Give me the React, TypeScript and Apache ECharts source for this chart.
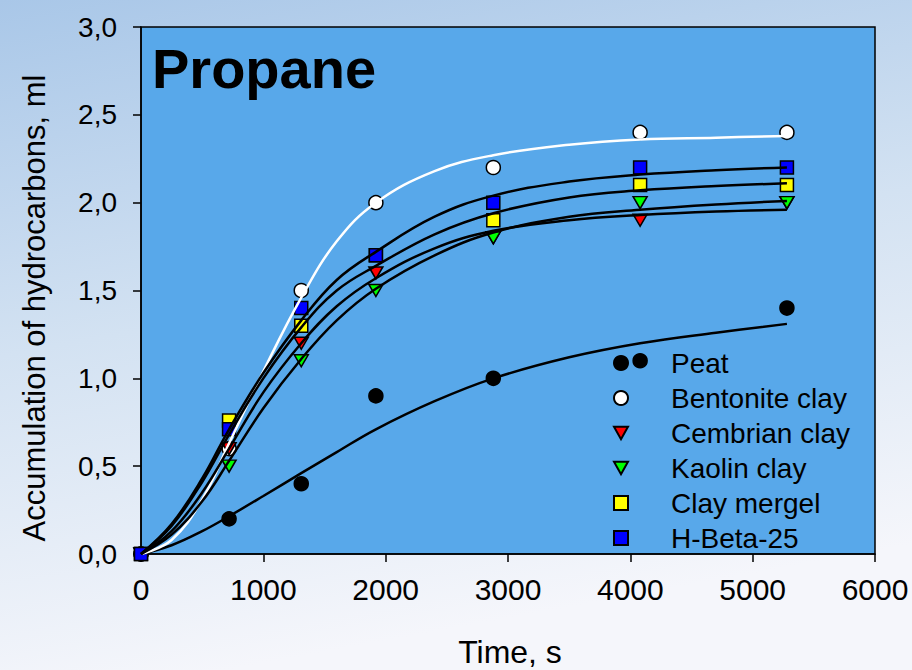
import React, { useEffect, useRef } from "react";
import * as echarts from "echarts";

// Measured data points
const sampleTimes = [0, 720, 1310, 1920, 2880, 4080, 5280];
const peat = [0, 0.2, 0.4, 0.9, 1.0, 1.1, 1.4];
const bentonite = [0, 0.6, 1.5, 2.0, 2.2, 2.4, 2.4];
const cembrian = [0, 0.6, 1.2, 1.6, 1.8, 1.9, 2.0];
const kaolin = [0, 0.5, 1.1, 1.5, 1.8, 2.0, 2.0];
const clayMergel = [0, 0.76, 1.3, 1.7, 1.9, 2.1, 2.1];
const hBeta = [0, 0.71, 1.4, 1.7, 2.0, 2.2, 2.2];

// Fitted curves
const curveTimes = [0, 250, 500, 720, 1000, 1310, 1600, 1920, 2400, 2880, 3500, 4080, 4700, 5280];
const peatFit = [0, 0.05, 0.13, 0.215, 0.33, 0.46, 0.58, 0.71, 0.87, 1.0, 1.12, 1.2, 1.26, 1.31];
const bentoniteFit = [0, 0.08, 0.31, 0.63, 1.04, 1.46, 1.78, 2.0, 2.18, 2.27, 2.33, 2.36, 2.37, 2.38];
const cembrianFit = [0, 0.13, 0.35, 0.6, 0.92, 1.2, 1.41, 1.57, 1.74, 1.84, 1.9, 1.93, 1.95, 1.96];
const kaolinFit = [0, 0.11, 0.3, 0.53, 0.83, 1.11, 1.33, 1.51, 1.7, 1.83, 1.92, 1.96, 1.99, 2.01];
const clayMergelFit = [0, 0.16, 0.41, 0.68, 1.0, 1.29, 1.5, 1.64, 1.82, 1.94, 2.03, 2.07, 2.095, 2.11];
const hBetaFit = [0, 0.17, 0.43, 0.71, 1.03, 1.33, 1.56, 1.72, 1.92, 2.04, 2.12, 2.16, 2.185, 2.2];

const seriesNames = ["Peat", "Bentonite clay", "Cembrian clay", "Kaolin clay", "Clay mergel", "H-Beta-25"];
const xTicks = { min: 0, max: 6000, interval: 1000 };
const yTicks = { min: 0, max: 3, interval: 0.5 };

const FONT = "'Liberation Sans', Arial, sans-serif";
const DOWN_TRI = "path://M0,0L10,0L5,9Z";

const pair = (xs: number[], ys: number[]) => xs.map((x, i) => [x, ys[i]]);

export default function App() {
  const ref = useRef<HTMLDivElement>(null);
  useEffect(() => {
    document.body.style.margin = "0";
    const chart = echarts.init(ref.current!, null, { renderer: "svg" });
    const markerDefs = [
      { name: seriesNames[0], data: peat, symbol: "circle", size: 14, color: "#000000" },
      { name: seriesNames[1], data: bentonite, symbol: "circle", size: 14, color: "#ffffff" },
      { name: seriesNames[2], data: cembrian, symbol: DOWN_TRI, size: [14, 12], color: "#ff0000" },
      { name: seriesNames[3], data: kaolin, symbol: DOWN_TRI, size: [14, 12], color: "#00ff00" },
      { name: seriesNames[4], data: clayMergel, symbol: "rect", size: 13, color: "#ffff00" },
      { name: seriesNames[5], data: hBeta, symbol: "rect", size: 13, color: "#0000ff" },
    ];
    const fits = [
      { d: peatFit, c: "#000" },
      { d: bentoniteFit, c: "#fff" },
      { d: cembrianFit, c: "#000" },
      { d: kaolinFit, c: "#000" },
      { d: clayMergelFit, c: "#000" },
      { d: hBetaFit, c: "#000" },
    ];
    const scatterSeries = markerDefs.map((m) => ({
      type: "scatter",
      name: m.name,
      data: pair(sampleTimes, m.data),
      symbol: m.symbol,
      symbolSize: m.size,
      z: 2,
      itemStyle: { color: m.color, borderColor: "#000", borderWidth: 1.5, opacity: 1 },
    }));
    const lineSeries = fits.map((f, i) => ({
      type: "line",
      name: seriesNames[i] + " fit",
      data: pair(curveTimes, f.d),
      smooth: 0.4,
      showSymbol: false,
      symbol: "none",
      z: 3,
      lineStyle: { color: f.c, width: 2.5 },
    }));
    chart.setOption({
      animation: false,
      backgroundColor: {
        type: "linear", x: 0, y: 0, x2: 0.25, y2: 1,
        colorStops: [
          { offset: 0, color: "#a9c7e8" },
          { offset: 0.5, color: "#d3e2f2" },
          { offset: 1, color: "#f5f6fb" },
        ],
      },
      grid: {
        left: 141, top: 27, right: 37, bottom: 116,
        show: true, backgroundColor: "#58a8ea", borderColor: "#000", borderWidth: 1.5,
      },
      xAxis: {
        type: "value", ...xTicks,
        axisLine: { show: true, lineStyle: { color: "#000", width: 1.5 } },
        axisTick: { show: true, inside: false, length: 8, lineStyle: { color: "#000", width: 1.5 } },
        splitLine: { show: false },
        axisLabel: {
          color: "#000", fontSize: 30, fontFamily: FONT, margin: 20,
          formatter: (v: number) => String(v),
        },
      },
      yAxis: {
        type: "value", ...yTicks,
        axisLine: { show: true, lineStyle: { color: "#000", width: 1.5 } },
        axisTick: { show: true, inside: false, length: 8, lineStyle: { color: "#000", width: 1.5 } },
        splitLine: { show: false },
        axisLabel: {
          color: "#000", fontSize: 28, fontFamily: FONT, margin: 24,
          formatter: (v: number) => v.toFixed(1).replace(".", ","),
        },
      },
      legend: {
        data: seriesNames,
        orient: "vertical",
        left: 608,
        top: 344,
        itemWidth: 14,
        itemHeight: 14,
        itemGap: 7,
        textStyle: { fontSize: 28, fontFamily: FONT, color: "#000", padding: [0, 0, 0, 38] },
        selectedMode: false,
      },
      graphic: [
        {
          type: "text", x: 152, y: 68,
          style: { text: "Propane", font: `bold 56px ${FONT}`, fill: "#000", textAlign: "left", textVerticalAlign: "middle" },
        },
        {
          type: "text", x: 510, y: 652,
          style: { text: "Time, s", font: `32px ${FONT}`, fill: "#000", textAlign: "center", textVerticalAlign: "middle" },
        },
        {
          type: "text", x: 34, y: 308, rotation: Math.PI / 2,
          style: { text: "Accumulation of hydrocarbons, ml", font: `31px ${FONT}`, fill: "#000", textAlign: "center", textVerticalAlign: "middle" },
        },
      ],
      series: [...scatterSeries, ...lineSeries],
    });
    return () => chart.dispose();
  }, []);
  return <div ref={ref} style={{ width: 912, height: 670 }} />;
}
